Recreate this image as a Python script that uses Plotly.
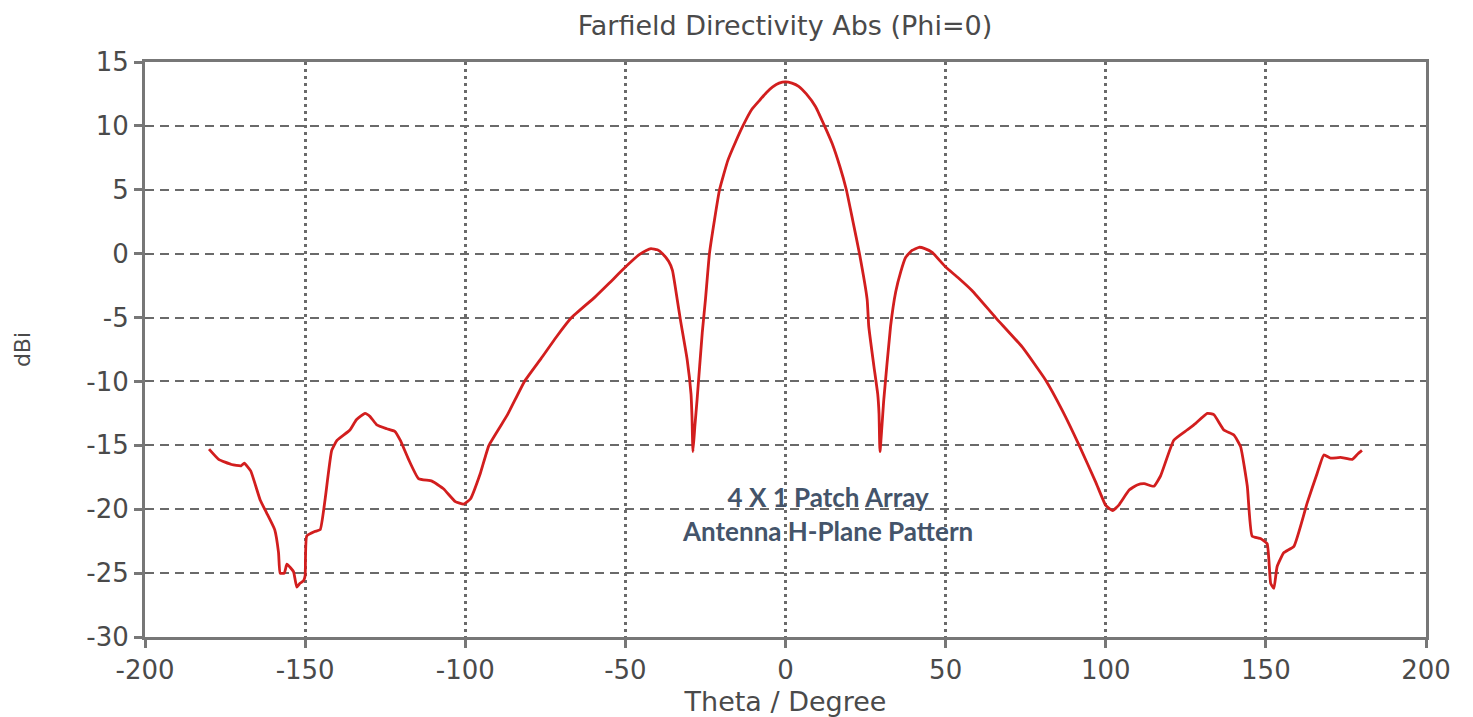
import plotly.graph_objects as go

# Farfield directivity, Phi=0 cut
theta_deg = [
    -180, -177, -173, -170, -169, -167, -164, -162, -159.5, -158.3, -157.8, -156.5,
    -155.7, -154.5, -153.6, -152.6, -151.6, -150.5, -150, -149.5, -147, -145.3,
    -143.8, -141.7, -140, -136, -134, -131.3, -129.7, -127.6, -124.5, -122, -120.3,
    -117.7, -114.6, -110.4, -106.8, -103.1, -100.5, -98.4, -95.3, -92.6, -86.8,
    -81.5, -76.3, -71.5, -66.8, -59.5, -55, -50, -45.8, -43.5, -42, -40, -38.4,
    -36.5, -35.3, -33.8, -32.8, -30.7, -29.5, -29.2, -28.9, -28.3, -27.6, -26, -25,
    -23.75, -22.2, -20.6, -18, -15.5, -13.3, -10.5, -8.1, -6, -4, -2, 0, 2, 4.1,
    6.5, 9.4, 12, 14.6, 17, 19, 21, 23.1, 25.5, 26, 27.6, 28.8, 29.2, 29.5, 30.7,
    32.8, 34.4, 36, 37.5, 39.5, 41.7, 43.5, 45.8, 50, 54, 58.3, 65.6, 73.9, 81.25,
    86.5, 91.7, 96.9, 100, 102.1, 104, 107.3, 109.8, 112, 115, 117.1, 121.25, 125.4,
    128, 131.7, 133.75, 136.9, 140, 142.1, 144.2, 145.7, 148.3, 150.4, 151.5, 152.5,
    153.5, 155.6, 158.75, 162.9, 166, 168.1, 170.2, 173.3, 177, 178.6, 180,
]
directivity_dbi = [
    -15.3, -16.1, -16.5, -16.6, -16.4, -17.0, -19.3, -20.3, -21.6, -23.4, -25.0, -25.0,
    -24.3, -24.6, -24.9, -26.1, -25.8, -25.6, -25.2, -22.1, -21.75, -21.6,
    -19.3, -15.4, -14.6, -13.8, -13.0, -12.5, -12.75, -13.4, -13.7, -13.9, -14.6,
    -16.1, -17.6, -17.8, -18.4, -19.4, -19.6, -19.2, -17.2, -15.0, -12.6,
    -10.0, -8.2, -6.5, -5.0, -3.4, -2.3, -1.05, -0.1, 0.25, 0.4, 0.3, 0.0,
    -0.6, -1.3, -3.6, -5.2, -8.3, -11.0, -12.75, -15.5, -13.5, -11.4, -6.2, -3.6,
    0.0, 2.6, 5.0, 7.3, 8.8, 10.0, 11.3, 12.0, 12.6, 13.05, 13.35, 13.45, 13.35, 13.1,
    12.5, 11.5, 10.1, 8.6, 6.8, 5.0, 2.6, 0.0, -3.6, -5.7, -8.8, -11.0, -12.5, -15.5, -11.4,
    -5.7, -3.0, -1.4, -0.3, 0.25, 0.5, 0.4, 0.1, -1.05, -1.9, -2.9, -5.0, -7.3, -9.9,
    -12.3, -15.0, -17.9, -19.7, -20.1, -19.7, -18.5, -18.1, -18.0, -18.2, -17.4, -14.6, -13.8,
    -13.3, -12.5, -12.6, -13.8, -14.2, -15.1, -18.2, -22.1, -22.3, -22.7, -25.8, -26.2,
    -24.5, -23.4, -22.9, -19.5, -17.2, -15.75, -16.0, -15.95, -16.1, -15.7, -15.4,
]

x_ticks = [-200, -150, -100, -50, 0, 50, 100, 150, 200]
y_ticks = [15, 10, 5, 0, -5, -10, -15, -20, -25, -30]

chart_title = "Farfield Directivity Abs (Phi=0)"
x_title = "Theta / Degree"
y_title = "dBi"
note_text = "4 X 1 Patch Array<br>Antenna H-Plane Pattern"

FONT = "DejaVu Sans, Verdana, sans-serif"
TXT = "#4a4a4a"
axis_font = dict(family=FONT, size=26, color=TXT)

fig = go.Figure()
fig.add_trace(go.Scatter(
    x=theta_deg, y=directivity_dbi, mode="lines",
    line=dict(color="#d21e1e", width=2.8, shape="spline", smoothing=0.4),
    showlegend=False, hoverinfo="x+y",
))

fig.update_layout(
    width=1473, height=717,
    paper_bgcolor="white", plot_bgcolor="white",
    margin=dict(l=145, r=47, t=62, b=80, autoexpand=False),
    title=dict(
        text=chart_title, x=785 / 1473, xref="container",
        xanchor="center", y=1 - 26 / 717, yanchor="middle",
        font=dict(family=FONT, size=27, color=TXT),
    ),
    xaxis=dict(
        range=[-200, 200], tickvals=x_ticks, ticktext=[str(v) for v in x_ticks],
        showline=True, mirror=True, linecolor="#777777", linewidth=3,
        ticks="outside", ticklen=8, tickwidth=2.5, tickcolor="#777777",
        showgrid=True, gridcolor="#6a6a6a", gridwidth=2.5, griddash="3px,4px",
        zeroline=False, tickfont=axis_font, automargin=False,
        title=dict(text=x_title, standoff=16, font=dict(family=FONT, size=27, color=TXT)),
    ),
    yaxis=dict(
        range=[-30, 15], tickvals=y_ticks, ticktext=[str(v) for v in y_ticks],
        showline=True, mirror=True, linecolor="#777777", linewidth=3,
        ticks="outside", ticklen=8, tickwidth=2.5, tickcolor="#777777",
        showgrid=True, gridcolor="#6a6a6a", gridwidth=2.2, griddash="9px,6px",
        zeroline=False, tickfont=axis_font, automargin=False,
        title=dict(text=y_title, standoff=50, font=dict(family=FONT, size=22, color=TXT)),
    ),
    annotations=[dict(
        text=note_text, x=13.1, y=-20.35, xref="x", yref="y",
        showarrow=False, align="center", xanchor="center", yanchor="middle",
        font=dict(family="Lato, 'Open Sans', sans-serif", size=26, color="#44546A", weight="bold"),
    )],
)

fig.write_html("out.html", config={"displayModeBar": False},
               post_script="document.body.style.margin='0';")
